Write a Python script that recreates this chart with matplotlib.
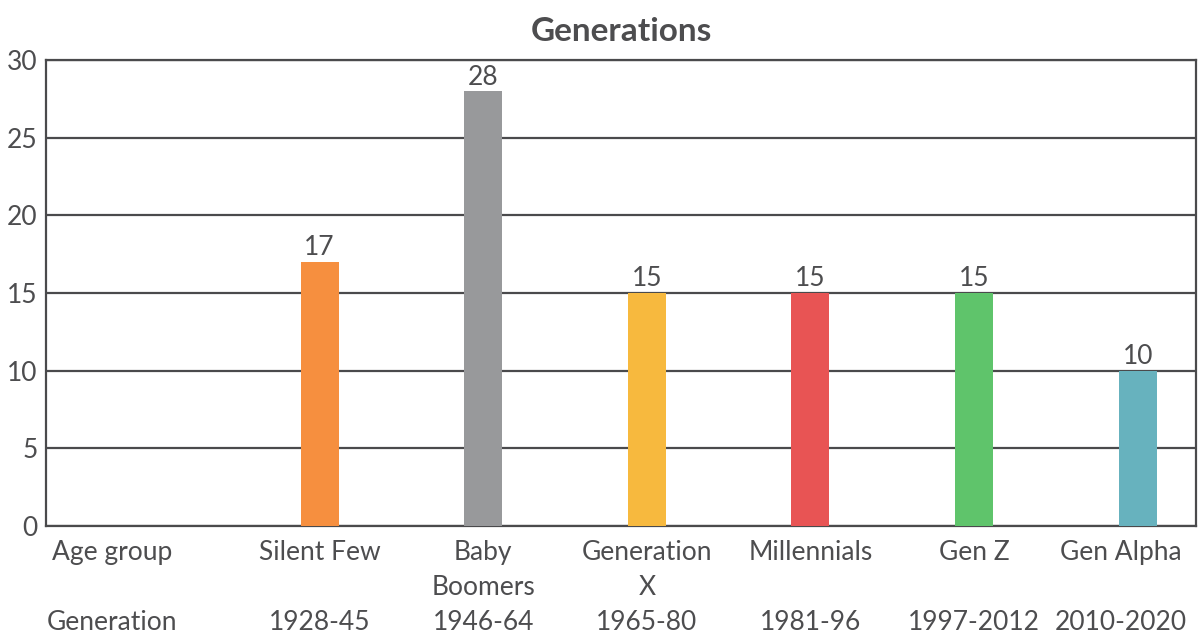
import numpy as np
import matplotlib.pyplot as plt

# data
row_headers = ["Age group", "Generation"]
generations = ["Silent Few", "Baby\nBoomers", "Generation\nX", "Millennials", "Gen Z", "Gen Alpha"]
years = ["1928-45", "1946-64", "1965-80", "1981-96", "1997-2012", "2010-2020"]
values = [17, 28, 15, 15, 15, 10]
colors = ["#F68F3F", "#98999B", "#F7B93E", "#E85454", "#5FC46B", "#67B2BE"]

text_color = "#4d4d4f"
line_color = "#4a4a4c"

plt.rcParams['font.family'] = ['Lato', 'DejaVu Sans']

fig = plt.figure(figsize=(11.98, 6.37), dpi=100)
ax = fig.add_axes([0.0384, 0.1743, 0.96, 0.7315])

x = np.arange(1, len(values) + 1)
ax.bar(x, values, width=0.232, color=colors, zorder=3)

for xi, v in zip(x, values):
    ax.text(xi, v + 0.1, str(v), ha='center', va='bottom', fontsize=19, color=text_color, zorder=4)

ax.set_ylim(0, 30)
ax.set_xlim(-0.672, 6.357)
ax.set_yticks(range(0, 31, 5))
ax.yaxis.grid(True, color=line_color, linewidth=1.6, zorder=0)
ax.set_axisbelow(True)

labels = []
for g, y in zip(generations, years):
    if "\n" in g:
        labels.append(g + "\n" + y)
    else:
        labels.append(g + "\n\n" + y)
# header column sits left of the first bar, last label pulled in from the edge
ticks = [-0.27] + list(x[:-1]) + [x[-1] - 0.1]
labels = [row_headers[0] + "\n\n" + row_headers[1]] + labels
ax.set_xticks(ticks)
ax.set_xticklabels(labels, linespacing=1.5)

ax.tick_params(axis='both', length=0, labelcolor=text_color)
ax.tick_params(axis='x', pad=10, labelsize=19)
ax.tick_params(axis='y', pad=6, labelsize=19)

for s in ax.spines.values():
    s.set_color(line_color)
    s.set_linewidth(1.6)

ax.set_title("Generations", fontsize=24, fontweight='bold', color=text_color, pad=14)

plt.savefig("out.png", dpi=100)
